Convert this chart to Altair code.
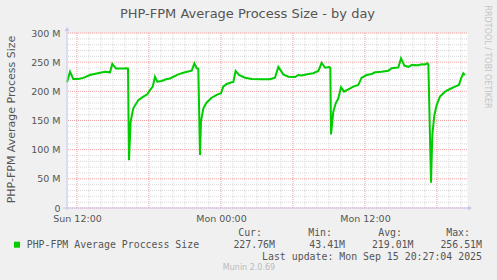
import altair as alt
import pandas as pd

# ---- data (hours since Sun 00:00, process size in MB) ----
hours = [11.17, 11.42, 11.69, 12.11, 12.53, 13.08, 13.92, 14.33, 14.75, 14.94,
         15.25, 15.86, 16.14, 16.25, 16.33, 16.47, 16.69, 17.11, 17.53, 17.86,
         18.08, 18.31, 18.50, 18.69, 19.06, 19.42, 19.75, 20.44, 21.00, 21.56,
         21.78, 21.97, 22.11, 22.25, 22.33, 22.53, 22.81, 23.22, 23.64, 24.00,
         24.19, 24.47, 24.89, 25.03, 25.22, 25.50, 26.00, 26.56, 27.39, 28.08,
         28.50, 28.78, 29.19, 29.61, 30.17, 30.44, 30.72, 31.28, 31.69, 32.11,
         32.39, 32.67, 33.03, 33.11, 33.17, 33.36, 33.56, 33.78, 34.00, 34.25,
         34.61, 35.03, 35.44, 35.72, 36.14, 36.56, 36.83, 37.39, 37.94, 38.22,
         38.78, 39.00, 39.28, 39.61, 39.89, 40.44, 40.72, 41.00, 41.19, 41.28,
         41.50, 41.61, 41.78, 41.97, 42.25, 42.67, 43.08, 43.50, 43.83, 44.00,
         44.19, 44.33]
size_mb = [215.5, 233.5, 221.0, 221.0, 223.0, 228.0, 232.0, 233.7, 232.6, 247.0,
           239.0, 239.0, 239.5, 239.0, 82.0, 148.0, 171.0, 185.0, 191.0, 195.0,
           202.0, 208.0, 225.0, 216.5, 217.7, 220.6, 222.0, 229.0, 232.6, 235.4,
           248.0, 239.5, 239.0, 91.0, 148.0, 171.0, 181.0, 189.0, 194.0, 196.6,
           208.0, 212.6, 215.5, 216.0, 235.0, 228.0, 223.4, 221.0, 220.6, 220.6,
           223.4, 242.0, 229.0, 225.0, 224.6, 228.0, 227.0, 229.7, 231.0, 235.0,
           249.0, 240.5, 241.7, 240.5, 126.0, 165.0, 179.5, 188.0, 207.0, 199.4,
           203.4, 208.0, 211.0, 223.4, 228.0, 229.7, 232.6, 233.7, 235.4, 239.5,
           241.0, 256.5, 244.0, 242.0, 245.0, 244.6, 246.4, 246.0, 248.0, 246.0,
           43.4, 125.0, 159.0, 176.6, 191.0, 199.4, 204.0, 208.0, 211.0, 222.0,
           231.0, 227.8]

x_tick_hours = [12, 24, 36]
x_tick_labels = ["Sun 12:00", "Mon 00:00", "Mon 12:00"]
major_hours = [12, 18, 24, 30, 36, 42]
minor_hours = [h for h in range(12, 45) if h not in major_hours]
major_mb = [0, 50, 100, 150, 200, 250, 300]
minor_mb = [m for m in range(10, 300, 10) if m not in major_mb]

title_text = "PHP-FPM Average Process Size - by day"
y_title = "PHP-FPM Average Process Size"
legend_label = "PHP-FPM Average Proccess Size"
stat_names = ["Cur:", "Min:", "Avg:", "Max:"]
stat_values = ["227.76M", "43.41M", "219.01M", "256.51M"]
last_update = "Last update: Mon Sep 15 20:27:04 2025"
footer = "Munin 2.0.69"
side_text = "RRDTOOL / TOBI OETIKER"

# ---- layout ----
W, H = 400, 175
X_DOMAIN = [11.1667, 44.5]
Y_DOMAIN = [0, 300]
SANS = "DejaVu Sans"
MONO = "DejaVu Sans Mono"
TXT = "#555555"
AXIS_COL = "#C4C4F0"
GREEN = "#00CC00"

xs = alt.Scale(domain=X_DOMAIN, nice=False, zero=False)
ys = alt.Scale(domain=Y_DOMAIN, nice=False)

one = alt.Data(values=[{"k": 1}])

label_expr_x = " : ".join(
    f"datum.value == {h} ? '{l}'" for h, l in zip(x_tick_hours, x_tick_labels)
) + " : ''"

x_axis = alt.Axis(
    values=x_tick_hours, labelExpr=label_expr_x, grid=False, ticks=False,
    domain=False, labelFont=SANS, labelFontSize=9.5, labelColor=TXT,
    labelPadding=5, labelFlush=False, title="")
y_axis = alt.Axis(
    values=major_mb, labelExpr="datum.value == 0 ? '0' : datum.value + ' M'",
    grid=False, ticks=False, domain=False, labelFont=SANS, labelFontSize=9.5,
    labelColor=TXT, labelPadding=7, title="")

line_df = pd.DataFrame({"h": hours, "mb": size_mb})

minor_v = alt.Chart(pd.DataFrame({"h": minor_hours})).mark_rule(
    color="#DADADA", strokeDash=[1, 1], strokeWidth=1
).encode(x=alt.X("h:Q", scale=xs, axis=x_axis))
minor_h = alt.Chart(pd.DataFrame({"mb": minor_mb})).mark_rule(
    color="#DADADA", strokeDash=[1, 1], strokeWidth=1
).encode(y=alt.Y("mb:Q", scale=ys, axis=y_axis))
major_v = alt.Chart(pd.DataFrame({"h": major_hours})).mark_rule(
    color="#F0A0A0", strokeDash=[1, 1], strokeWidth=1
).encode(x=alt.X("h:Q", scale=xs, axis=x_axis))
major_h = alt.Chart(pd.DataFrame({"mb": major_mb})).mark_rule(
    color="#F0A0A0", strokeDash=[1, 1], strokeWidth=1
).encode(y=alt.Y("mb:Q", scale=ys, axis=y_axis))

line = alt.Chart(line_df).mark_line(color=GREEN, strokeWidth=2).encode(
    x=alt.X("h:Q", scale=xs, axis=x_axis),
    y=alt.Y("mb:Q", scale=ys, axis=y_axis),
)

y_axis_line = alt.Chart(one).mark_rule(color=AXIS_COL, strokeWidth=1).encode(
    x=alt.value(0), y=alt.value(-2), y2=alt.value(177))
x_axis_line = alt.Chart(one).mark_rule(color=AXIS_COL, strokeWidth=1).encode(
    y=alt.value(175), x=alt.value(-4), x2=alt.value(401))
arrow_up = alt.Chart(one).mark_point(shape="triangle-up", filled=True,
                                      color=AXIS_COL, size=22, opacity=1).encode(
    x=alt.value(0), y=alt.value(-4))
arrow_right = alt.Chart(one).mark_point(shape="triangle-right", filled=True,
                                         color=AXIS_COL, size=22, opacity=1).encode(
    x=alt.value(403), y=alt.value(175))


def txt(s, x, y, size, font=SANS, color=TXT, align="left", baseline="middle", angle=0):
    kw = dict(text=s, fontSize=size, font=font, color=color, align=align, baseline=baseline)
    if angle:
        kw["angle"] = angle
    return alt.Chart(one).mark_text(**kw).encode(x=alt.value(x), y=alt.value(y))


texts = [
    txt(title_text, 180.5, -14.7, 13, align="center", baseline="alphabetic"),
    txt(y_title, -52, 86.5, 11, align="center", baseline="alphabetic", angle=270),
    txt(side_text, 418, 24, 8, color="#C4C4C4", align="center", baseline="alphabetic", angle=90),
    txt(legend_label, -40.3, 212, 9.9, font=MONO),
    txt(last_update, 415, 223.5, 9.9, font=MONO, align="right"),
    txt(footer, 182, 235, 8, color="#BBBBBB", align="center"),
]
header_ends = [195, 265, 335, 403]
value_ends = [208, 278, 346.5, 415]
for name, xe in zip(stat_names, header_ends):
    texts.append(txt(name, xe, 199.5, 9.9, font=MONO, align="right"))
for val, xe in zip(stat_values, value_ends):
    texts.append(txt(val, xe, 211.5, 9.9, font=MONO, align="right"))

legend_sq = alt.Chart(one).mark_square(color=GREEN, size=36, opacity=1).encode(
    x=alt.value(-50), y=alt.value(211.7))

chart = alt.layer(
    minor_v, minor_h, major_v, major_h, line,
    y_axis_line, x_axis_line, arrow_up, arrow_right, legend_sq, *texts
).properties(
    width=W, height=H,
    padding={"left": 67, "top": 33, "right": 30, "bottom": 72},
    autosize=alt.AutoSizeParams(type="none"),
    background="#F0F0F0",
).configure_view(fill="white", stroke="transparent")

chart.save("out.html", embed_options={"renderer": "svg", "actions": False})
